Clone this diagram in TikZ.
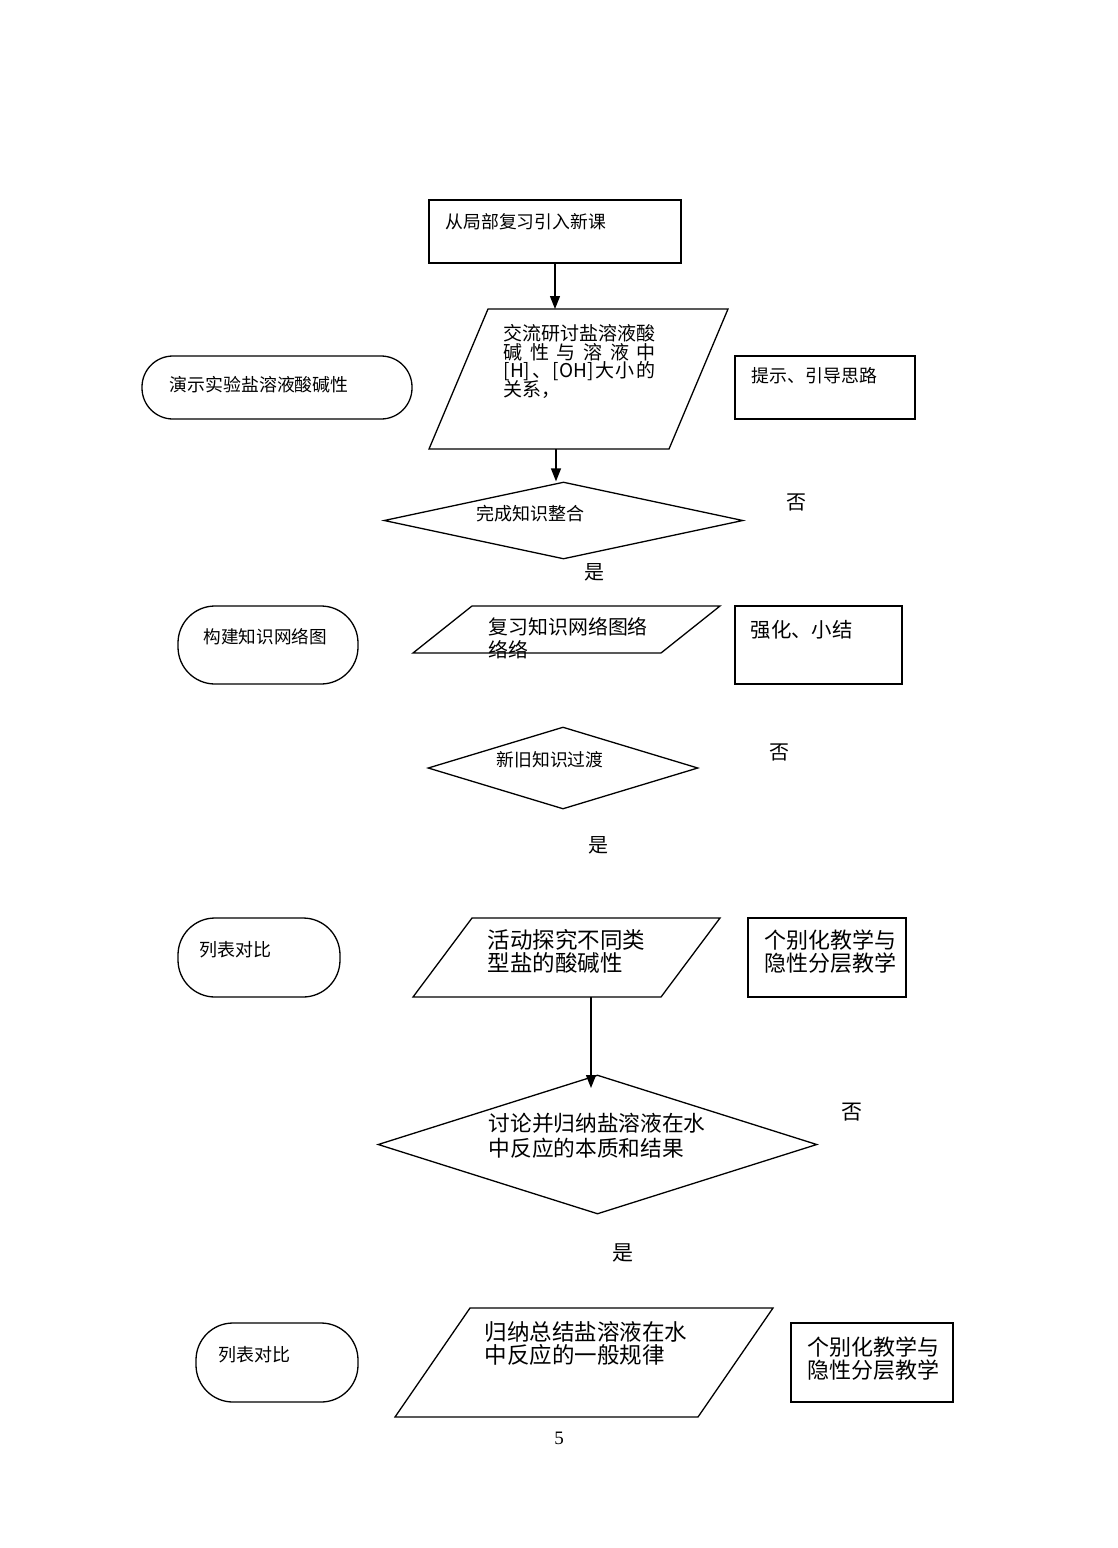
\documentclass[tikz,border=0pt]{standalone}
\usepackage{fontspec}
\setmainfont{Noto Sans CJK SC}
\newfontfamily\latinserif{Liberation Serif}
\usetikzlibrary{shapes.geometric,arrows.meta}
\newcommand\myfs[1]{\fontsize{#1}{#1}\selectfont}
\begin{document}
\begin{tikzpicture}[x=1pt,y=-1pt,line width=1.3pt,
  box/.style={draw,rectangle,inner sep=0pt},
  stad/.style={draw,rectangle,inner sep=0pt,rounded corners=#1},
  dia/.style={draw,diamond,inner sep=0pt},
  para/.style={inner sep=0pt,outer sep=0pt,
    append after command={\pgfextra{\draw ([xshift=#1]\tikzlastnode.north west) -- (\tikzlastnode.north east) -- ([xshift=-#1]\tikzlastnode.south east) -- (\tikzlastnode.south west) -- cycle;}}},
  txt/.style={anchor=west,inner sep=0pt,font=\myfs{#1}},
  lbl/.style={inner sep=0pt,font=\myfs{20}},
  arr/.style={-{Triangle[length=13pt,width=10pt]}}]
\useasboundingbox[fill=white] (0,0) rectangle (1117,1548);

% row 0
\node[box,minimum width=252,minimum height=63] (start) at (555,231.5) {};
\node[txt=17.8] (startt) at (445,222) {从局部复习引入新课};

% row 1
\node[para=59,minimum width=299,minimum height=140] (p1) at (578.5,379) {};
\node[txt=19] (p1t1) at (503,333) {\makebox[152pt][s]{交\hfill{}流\hfill{}研\hfill{}讨\hfill{}盐\hfill{}溶\hfill{}液\hfill{}酸}};
\node[txt=19] (p1t2) at (503,352) {\makebox[152pt][s]{碱\hfill{}性\hfill{}与\hfill{}溶\hfill{}液\hfill{}中}};
\node[txt=19] (p1t3) at (503,371) {\makebox[152pt][s]{[H]\hfill{}、\hfill{}[OH]\hfill{}大\hfill{}小\hfill{}的}};
\node[txt=19] (p1t4) at (503,390) {关系，};
\node[stad=31,minimum width=270,minimum height=63] (s1) at (277,387.5) {};
\node[txt=17.9] (s1t) at (169,385) {演示实验盐溶液酸碱性};
\node[box,minimum width=180,minimum height=63] (b1) at (825,387.5) {};
\node[txt=17.9] (b1t) at (751,376) {提示、引导思路};

% decision 1
\node[dia,minimum width=359,minimum height=77] (d1) at (563.5,520.5) {};
\node[txt=18] (d1t) at (476,514) {完成知识整合};
\node[lbl] (no1) at (796,502) {否};
\node[lbl] (yes1) at (594,572) {是};

% row 2
\node[stad=37,minimum width=180,minimum height=78] (s2) at (268,645) {};
\node[txt=17.6] (s2t) at (203,637) {构建知识网络图};
\node[para=59,minimum width=307,minimum height=47] (p2) at (566.5,629.5) {};
\node[txt=19.9] (p2t1) at (488,627) {复习知识网络图络};
\node[txt=19.9] (p2t2) at (488,650) {络络};
\node[box,minimum width=167,minimum height=78] (b2) at (818.5,645) {};
\node[txt=20.4] (b2t) at (750,630) {强化、小结};

% decision 2
\node[dia,minimum width=270,minimum height=82] (d2) at (563,768) {};
\node[txt=17.8] (d2t) at (496,760) {新旧知识过渡};
\node[lbl] (no2) at (779,752) {否};
\node[lbl] (yes2) at (598,845) {是};

% row 3
\node[stad=37,minimum width=162,minimum height=79] (s3) at (259,957.5) {};
\node[txt=18] (s3t) at (199,950) {列表对比};
\node[para=59,minimum width=307,minimum height=79] (p3) at (566.5,957.5) {};
\node[txt=22.5] (p3t1) at (487,940) {活动探究不同类};
\node[txt=22.5] (p3t2) at (487,963) {型盐的酸碱性};
\node[box,minimum width=158,minimum height=79] (b3) at (827,957.5) {};
\node[txt=22] (b3t1) at (764,940) {个别化教学与};
\node[txt=22] (b3t2) at (764,963) {隐性分层教学};

% decision 3
\node[dia,minimum width=439,minimum height=139] (d3) at (597.5,1144.5) {};
\node[txt=21.7] (d3t1) at (488,1123) {讨论并归纳盐溶液在水};
\node[txt=21.7] (d3t2) at (488,1148) {中反应的本质和结果};
\node[lbl,font=\myfs{21}] (no3) at (852,1112) {否};
\node[lbl,font=\myfs{21}] (yes3) at (623,1253) {是};

% row 4
\node[stad=37,minimum width=162,minimum height=79] (s4) at (277,1362.5) {};
\node[txt=18] (s4t) at (218,1355) {列表对比};
\node[para=75,minimum width=378,minimum height=109] (p4) at (584,1362.5) {};
\node[txt=22.5] (p4t1) at (484,1332) {归纳总结盐溶液在水};
\node[txt=22.5] (p4t2) at (484,1355) {中反应的一般规律};
\node[box,minimum width=162,minimum height=79] (b4) at (872,1362.5) {};
\node[txt=22] (b4t1) at (807,1347) {个别化教学与};
\node[txt=22] (b4t2) at (807,1370) {隐性分层教学};

\node[inner sep=0pt,font=\latinserif\myfs{19}] (page) at (559,1438) {5};

% connectors
\coordinate (a2x) at (556,0);
\coordinate (a3end) at (591,1088);
\draw[arr] (start.south) -- (start.south |- p1.north);
\draw[arr] (a2x |- p1.south) -- (a2x |- d1.north);
\draw[arr] (a3end |- p3.south) -- (a3end);
\end{tikzpicture}
\end{document}
